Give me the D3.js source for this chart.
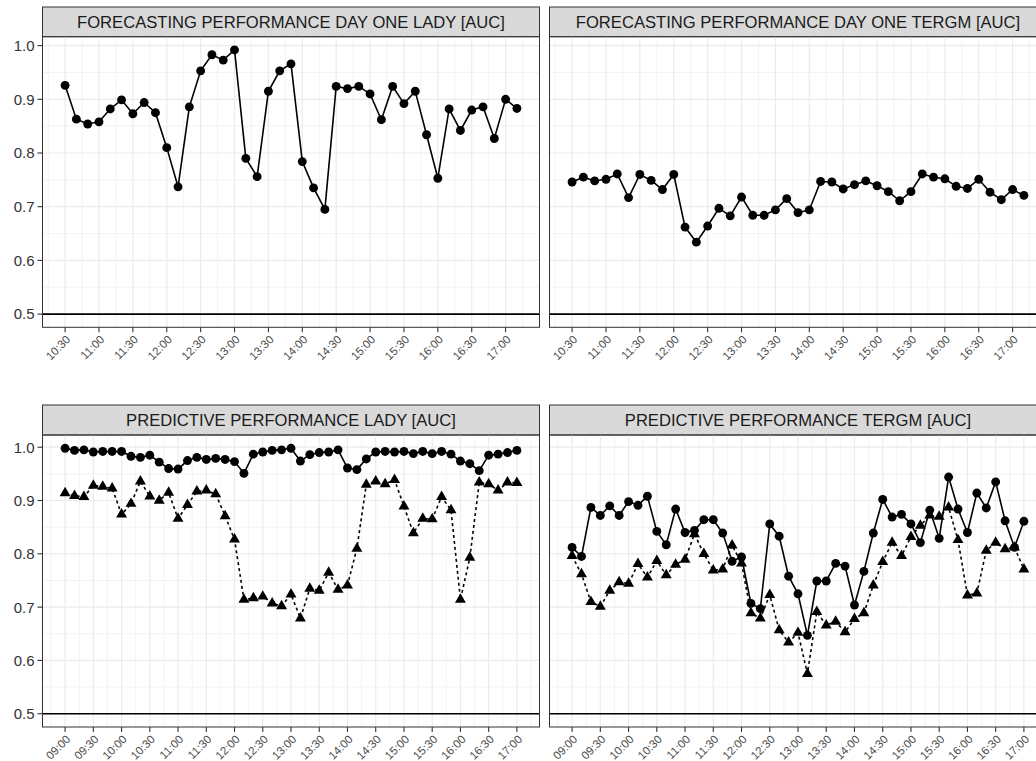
<!DOCTYPE html>
<html>
<head>
<meta charset="utf-8">
<title>Forecasting and predictive performance</title>
<script src="https://cdn.jsdelivr.net/npm/d3@7"></script>
<style>
  body { margin: 0; background: #fff; }
  text { font-family: "Liberation Sans", Arial, Helvetica, sans-serif; }
</style>
</head>
<body>
<div id="chart"></div>
<script>
// time stamps (10 min steps)
const timesTop = ["10:30","10:40","10:50","11:00","11:10","11:20","11:30","11:40","11:50","12:00",
  "12:10","12:20","12:30","12:40","12:50","13:00","13:10","13:20","13:30","13:40",
  "13:50","14:00","14:10","14:20","14:30","14:40","14:50","15:00","15:10","15:20",
  "15:30","15:40","15:50","16:00","16:10","16:20","16:30","16:40","16:50","17:00","17:10"];
const timesBottom = ["09:00","09:10","09:20","09:30","09:40","09:50","10:00","10:10","10:20","10:30",
  "10:40","10:50","11:00","11:10","11:20","11:30","11:40","11:50","12:00","12:10",
  "12:20","12:30","12:40","12:50","13:00","13:10","13:20","13:30","13:40","13:50",
  "14:00","14:10","14:20","14:30","14:40","14:50","15:00","15:10","15:20","15:30",
  "15:40","15:50","16:00","16:10","16:20","16:30","16:40","16:50","17:00"];

const ticksTop = ["10:30","11:00","11:30","12:00","12:30","13:00","13:30","14:00","14:30","15:00","15:30","16:00","16:30","17:00"];
const ticksBottom = ["09:00","09:30","10:00","10:30","11:00","11:30","12:00","12:30","13:00","13:30","14:00","14:30","15:00","15:30","16:00","16:30","17:00"];
const yTicks = [0.5, 0.6, 0.7, 0.8, 0.9, 1.0];
const baseline = 0.5;

// forecasting performance day one
const forecastLady = [0.926,0.863,0.854,0.858,0.882,0.899,0.873,0.894,0.875,0.810,
  0.737,0.886,0.953,0.983,0.973,0.992,0.790,0.756,0.915,0.953,
  0.966,0.784,0.735,0.695,0.924,0.920,0.924,0.910,0.862,0.924,
  0.892,0.915,0.834,0.753,0.882,0.842,0.880,0.886,0.827,0.900,0.883];
const forecastTergm = [0.746,0.755,0.748,0.751,0.761,0.717,0.760,0.749,0.732,0.760,
  0.662,0.634,0.664,0.697,0.683,0.718,0.684,0.684,0.694,0.715,
  0.689,0.694,0.747,0.746,0.733,0.741,0.748,0.739,0.728,0.711,
  0.728,0.761,0.755,0.752,0.738,0.734,0.751,0.727,0.713,0.732,0.721];

// predictive performance (circles = solid, triangles = dotted)
const predLadyA = [0.998,0.994,0.995,0.991,0.992,0.992,0.992,0.983,0.981,0.985,
  0.972,0.960,0.959,0.975,0.981,0.977,0.979,0.977,0.973,0.951,
  0.987,0.991,0.994,0.995,0.998,0.974,0.986,0.990,0.991,0.995,
  0.961,0.958,0.978,0.991,0.992,0.991,0.992,0.988,0.992,0.988,
  0.992,0.987,0.974,0.969,0.956,0.985,0.987,0.990,0.994];
const predLadyB = [0.914,0.909,0.907,0.928,0.926,0.923,0.874,0.894,0.936,0.908,
  0.900,0.915,0.866,0.892,0.917,0.919,0.912,0.871,0.827,0.714,
  0.717,0.720,0.707,0.702,0.724,0.679,0.735,0.731,0.765,0.733,
  0.741,0.810,0.930,0.936,0.931,0.939,0.889,0.839,0.866,0.865,
  0.907,0.882,0.714,0.793,0.934,0.931,0.919,0.934,0.933];
const predTergmA = [0.812,0.795,0.887,0.872,0.890,0.872,0.898,0.891,0.908,0.842,
  0.817,0.884,0.840,0.844,0.864,0.864,0.839,0.786,0.794,0.707,
  0.697,0.856,0.833,0.758,0.725,0.647,0.749,0.749,0.782,0.777,
  0.704,0.767,0.839,0.902,0.869,0.874,0.856,0.821,0.882,0.829,
  0.944,0.884,0.840,0.914,0.886,0.935,0.862,0.812,0.861];
const predTergmB = [0.796,0.762,0.710,0.701,0.731,0.747,0.744,0.781,0.756,0.787,
  0.760,0.780,0.789,0.837,0.800,0.769,0.771,0.816,0.782,0.689,
  0.679,0.723,0.657,0.634,0.652,0.575,0.691,0.666,0.673,0.653,
  0.678,0.689,0.741,0.785,0.821,0.796,0.832,0.853,0.872,0.870,
  0.887,0.826,0.722,0.726,0.806,0.821,0.809,0.812,0.771];

const titles = ["FORECASTING PERFORMANCE DAY ONE LADY [AUC]", "FORECASTING PERFORMANCE DAY ONE TERGM [AUC]",
  "PREDICTIVE PERFORMANCE LADY [AUC]", "PREDICTIVE PERFORMANCE TERGM [AUC]"];

const width = 1036, height = 761;
const toMin = s => { const p = s.split(':'); return +p[0] * 60 + +p[1]; };

const svg = d3.select('#chart').append('svg')
  .attr('width', width).attr('height', height)
  .style('display', 'block');
svg.append('rect').attr('width', width).attr('height', height).attr('fill', '#fff');

const colX = [42.5, 549.5];
const panelW = 497;
const rows = [
  { stripTop: 7, top: 36.7, bottom: 327.3, times: timesTop, ticks: ticksTop,
    panels: [ { title: titles[0], series: [forecastLady] }, { title: titles[1], series: [forecastTergm] } ] },
  { stripTop: 405, top: 435, bottom: 727, times: timesBottom, ticks: ticksBottom,
    panels: [ { title: titles[2], series: [predLadyA, predLadyB] }, { title: titles[3], series: [predTergmA, predTergmB] } ] }
];

// ggplot like 5% expansion
function expand(ext) {
  const d = ext[1] - ext[0];
  return [ext[0] - d * 0.05, ext[1] + d * 0.05];
}

const grey92 = '#ebebeb', grey20 = '#333333';

rows.forEach((row, ri) => {
  const mins = row.times.map(toMin);
  const allVals = row.panels.flatMap(p => p.series.flat()).concat([baseline]);
  const y = d3.scaleLinear().domain(expand(d3.extent(allVals))).range([row.bottom, row.top]);

  row.panels.forEach((p, ci) => {
    const x0 = colX[ci];
    const x = d3.scaleLinear().domain(expand(d3.extent(mins))).range([x0, x0 + panelW]);
    const g = svg.append('g');
    const clipId = 'clip' + ri + ci;
    svg.append('clipPath').attr('id', clipId).append('rect')
      .attr('x', x0).attr('y', row.top).attr('width', panelW).attr('height', row.bottom - row.top);

    // strip
    g.append('rect').attr('x', x0).attr('y', row.stripTop)
      .attr('width', panelW).attr('height', row.top - row.stripTop)
      .attr('fill', '#d9d9d9').attr('stroke', grey20).attr('stroke-width', 1);
    g.append('text').attr('x', x0 + panelW / 2).attr('y', (row.stripTop + row.top) / 2)
      .attr('dy', '0.36em').attr('text-anchor', 'middle')
      .attr('font-size', 16.6).attr('fill', '#1a1a1a').text(p.title);

    const body = g.append('g').attr('clip-path', `url(#${clipId})`);
    const tickMin = row.ticks.map(toMin);
    // minor grid
    const step = tickMin[1] - tickMin[0];
    const minorX = [tickMin[0] - step / 2].concat(tickMin.map(t => t + step / 2));
    body.selectAll('.mx').data(minorX).enter().append('line')
      .attr('x1', d => x(d)).attr('x2', d => x(d)).attr('y1', row.top).attr('y2', row.bottom)
      .attr('stroke', grey92).attr('stroke-width', 0.6);
    const minorY = yTicks.map(v => v + 0.05).concat([yTicks[0] - 0.05]);
    body.selectAll('.my').data(minorY).enter().append('line')
      .attr('x1', x0).attr('x2', x0 + panelW).attr('y1', d => y(d)).attr('y2', d => y(d))
      .attr('stroke', grey92).attr('stroke-width', 0.6);
    // major grid
    body.selectAll('.gx').data(tickMin).enter().append('line')
      .attr('x1', d => x(d)).attr('x2', d => x(d)).attr('y1', row.top).attr('y2', row.bottom)
      .attr('stroke', grey92).attr('stroke-width', 1.2);
    body.selectAll('.gy').data(yTicks).enter().append('line')
      .attr('x1', x0).attr('x2', x0 + panelW).attr('y1', d => y(d)).attr('y2', d => y(d))
      .attr('stroke', grey92).attr('stroke-width', 1.2);

    // reference line at 0.5
    body.append('line').attr('x1', x0).attr('x2', x0 + panelW)
      .attr('y1', y(baseline)).attr('y2', y(baseline))
      .attr('stroke', '#000').attr('stroke-width', 1.6);

    // series
    p.series.forEach((vals, si) => {
      const line = d3.line().x((d, i) => x(mins[i])).y(d => y(d));
      body.append('path').datum(vals).attr('d', line)
        .attr('fill', 'none').attr('stroke', '#000').attr('stroke-width', 1.6)
        .attr('stroke-dasharray', si === 1 ? '3,3' : null);
    });
    p.series.forEach((vals, si) => {
      const sym = d3.symbol().type(si === 1 ? d3.symbolTriangle : d3.symbolCircle).size(si === 1 ? 52 : 62);
      body.selectAll('.pt' + si).data(vals).enter().append('path')
        .attr('d', sym)
        .attr('transform', (d, i) => `translate(${x(mins[i])},${y(d)})`)
        .attr('fill', '#000');
    });

    // panel border
    g.append('rect').attr('x', x0).attr('y', row.top).attr('width', panelW).attr('height', row.bottom - row.top)
      .attr('fill', 'none').attr('stroke', grey20).attr('stroke-width', 1);

    // x axis ticks + labels
    const ax = g.append('g');
    ax.selectAll('line').data(tickMin).enter().append('line')
      .attr('x1', d => x(d)).attr('x2', d => x(d)).attr('y1', row.bottom).attr('y2', row.bottom + 5)
      .attr('stroke', grey20).attr('stroke-width', 1.1);
    ax.selectAll('text').data(row.ticks).enter().append('text')
      .attr('transform', d => `translate(${x(toMin(d)) + 6},${row.bottom + 13}) rotate(-45)`)
      .attr('text-anchor', 'end').attr('font-size', 11.5).attr('fill', '#4d4d4d')
      .text(d => d);

    // y axis on left column only
    if (ci === 0) {
      const ay = g.append('g');
      ay.selectAll('line').data(yTicks).enter().append('line')
        .attr('x1', x0 - 5).attr('x2', x0).attr('y1', d => y(d)).attr('y2', d => y(d))
        .attr('stroke', grey20).attr('stroke-width', 1.1);
      ay.selectAll('text').data(yTicks).enter().append('text')
        .attr('x', x0 - 8).attr('y', d => y(d)).attr('dy', '0.36em')
        .attr('text-anchor', 'end').attr('font-size', 15).attr('fill', '#333333')
        .text(d => d3.format('.1f')(d));
    }
  });
});
</script>
</body>
</html>
